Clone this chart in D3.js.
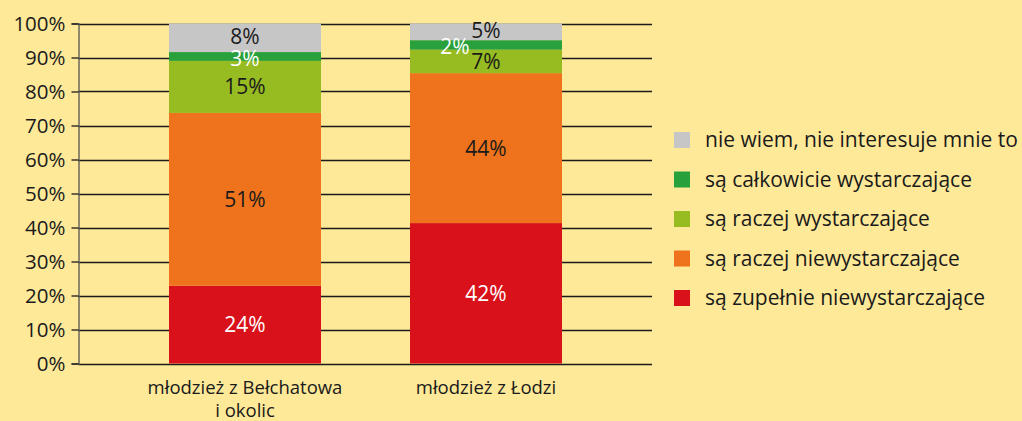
<!DOCTYPE html>
<html><head><meta charset="utf-8">
<script src="https://cdn.jsdelivr.net/npm/d3@7"></script>
<style>
html,body{margin:0;padding:0;background:#FEE999;}
svg{display:block;}
text{font-family:"Open Sans",sans-serif;}
</style></head>
<body>
<svg id="chart" width="1022" height="421"></svg>
<script>
const categories = ["młodzież z Bełchatowa i okolic", "młodzież z Łodzi"];
const categoryLines = [["młodzież z Bełchatowa", "i okolic"], ["młodzież z Łodzi"]];
const seriesNames = [
  "są zupełnie niewystarczające",
  "są raczej niewystarczające",
  "są raczej wystarczające",
  "są całkowicie wystarczające",
  "nie wiem, nie interesuje mnie to"
];
const zupelnieNiew = [22.9, 41.3];
const raczejNiew   = [50.8, 44.1];
const raczejWyst   = [15.3, 6.9];
const calkowicie   = [2.6, 2.8];
const nieWiem      = [8.4, 4.9];
const labelsZupelnie = ["24%", "42%"];
const labelsRaczejN  = ["51%", "44%"];
const labelsRaczejW  = ["15%", "7%"];
const labelsCalk     = ["3%", "2%"];
const labelsNieWiem  = ["8%", "5%"];
const yTicks = [0,10,20,30,40,50,60,70,80,90,100];
const yTickLabels = ["0%","10%","20%","30%","40%","50%","60%","70%","80%","90%","100%"];

const seriesValues = [zupelnieNiew, raczejNiew, raczejWyst, calkowicie, nieWiem];
const seriesLabels = [labelsZupelnie, labelsRaczejN, labelsRaczejW, labelsCalk, labelsNieWiem];
const colors = ["#D8111A", "#EE731C", "#97BC22", "#28A03B", "#C6C6C6"];
const labelColors = ["#ffffff", "#1a1a1a", "#1a1a1a", "#ffffff", "#1a1a1a"];

const svg = d3.select("#chart");
const y = d3.scaleLinear().domain([0,100]).range([363.5, 23.5]);
const x = d3.scalePoint().domain(categories).range([245, 486]);
const barW = 152;
const axisX = 78.5, gridRight = 652;

// gridlines
svg.append("g").selectAll("line").data(yTicks).join("line")
  .attr("x1", axisX).attr("x2", gridRight)
  .attr("y1", d => Math.round(y(d)) + 0.5).attr("y2", d => Math.round(y(d)) + 0.5)
  .attr("stroke", "#1a1a1a").attr("stroke-width", 1.3);

// stack
const table = categories.map((c, i) => {
  const o = {cat: c};
  seriesNames.forEach((s, j) => o[s] = seriesValues[j][i]);
  return o;
});
const stacked = d3.stack().keys(seriesNames)(table);

const gBars = svg.append("g");
stacked.forEach((layer, j) => {
  gBars.append("g").selectAll("rect").data(layer).join("rect")
    .attr("x", d => x(d.data.cat) - barW/2)
    .attr("width", barW)
    .attr("y", d => y(d[1]))
    .attr("height", d => y(d[0]) - y(d[1]))
    .attr("fill", colors[j]);
});

// labels
stacked.forEach((layer, j) => {
  gBars.append("g").selectAll("text").data(layer).join("text")
    .attr("x", (d, i) => x(d.data.cat) + ((j === 3 && i === 1) ? -31 : 0))
    .attr("y", (d, i) => (y(d[0]) + y(d[1]))/2 + (j === 4 ? -1.5 : 0) + (j === 3 ? 1.5 : 0))
    .attr("dy", "0.36em")
    .attr("text-anchor", "middle")
    .attr("font-size", 21)
    .attr("fill", labelColors[j])
    .text((d, i) => seriesLabels[j][i]);
});

// y axis
const yAxis = d3.axisLeft(y).tickValues(yTicks).tickSize(7).tickPadding(6)
  .tickFormat((d, i) => yTickLabels[i]);
const gy = svg.append("g").attr("transform", `translate(${axisX},0)`).call(yAxis);
gy.select(".domain").attr("stroke", "#555").attr("stroke-width", 1.3);
gy.selectAll(".tick line").attr("stroke", "#1a1a1a").attr("stroke-width", 1.3);
gy.selectAll(".tick text").attr("font-size", 20.5).attr("fill", "#1a1a1a")
  .attr("font-family", "'Open Sans',sans-serif");

// x labels
const gx = svg.append("g");
categories.forEach((c, i) => {
  const t = gx.append("text").attr("x", x(c)).attr("y", 394)
    .attr("text-anchor", "middle").attr("font-size", 18.5).attr("fill", "#1a1a1a");
  categoryLines[i].forEach((ln, k) => {
    t.append("tspan").attr("x", x(c)).attr("dy", k === 0 ? 0 : 23).text(ln);
  });
});

// legend
const legendOrder = [4,3,2,1,0];
const lg = svg.append("g");
legendOrder.forEach((j, r) => {
  const cy = 140 + r * 39.5;
  lg.append("rect").attr("x", 674).attr("y", cy - 8).attr("width", 16).attr("height", 16).attr("fill", colors[j]);
  lg.append("text").attr("x", 705).attr("y", cy).attr("dy", "0.35em")
    .attr("font-size", 21).attr("fill", "#1a1a1a").text(seriesNames[j]);
});
</script>
</body></html>
